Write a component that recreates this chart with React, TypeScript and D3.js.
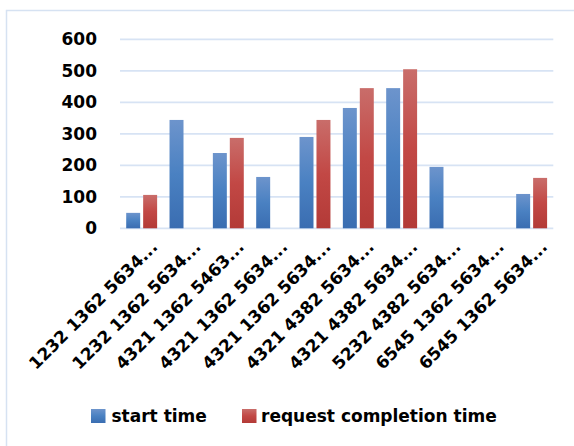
import React from 'react';
import * as d3 from 'd3';

const categories = [
  '1232 1362 5634...',
  '1232 1362 5634...',
  '4321 1362 5463...',
  '4321 1362 5634...',
  '4321 1362 5634...',
  '4321 4382 5634...',
  '4321 4382 5634...',
  '5232 4382 5634...',
  '6545 1362 5634...',
  '6545 1362 5634...',
];
const startTime = [49, 344, 239, 163, 290, 382, 445, 195, null, 109];
const completionTime = [106, null, 287, null, 344, 445, 505, null, null, 160];
const seriesNames = ['start time', 'request completion time'];
const yTicks = [0, 100, 200, 300, 400, 500, 600];

const W = 574;
const H = 446;
const font = '"DejaVu Sans", sans-serif';

const App = () => {
  const x = d3
    .scaleBand()
    .domain(categories.map((_, i) => String(i)))
    .range([120, 553.3])
    .paddingInner(0)
    .paddingOuter(0);

  const inner = d3
    .scaleBand()
    .domain(['0', '1'])
    .range([6.2, x.bandwidth() - 6.2])
    .paddingInner(0.176)
    .paddingOuter(0);

  const y = d3.scaleLinear().domain([0, 600]).range([228.3, 39.3]);

  const series = [startTime, completionTime];
  const fills = ['url(#gBlue)', 'url(#gRed)'];

  return (
    <svg
      width={W}
      height={H}
      style={{ position: 'absolute', left: 0, top: 0, background: '#fff' }}
    >
      <defs>
        <linearGradient id="gBlue" x1="0" y1="0" x2="0" y2="1">
          <stop offset="0" stopColor="#6d94cc" />
          <stop offset="0.5" stopColor="#4a81c2" />
          <stop offset="1" stopColor="#3a6db1" />
        </linearGradient>
        <linearGradient id="gRed" x1="0" y1="0" x2="0" y2="1">
          <stop offset="0" stopColor="#c96d6a" />
          <stop offset="0.5" stopColor="#c24845" />
          <stop offset="1" stopColor="#b33a37" />
        </linearGradient>
      </defs>

      {/* chart frame */}
      <rect x={6.5} y={10.5} width={620} height={500} fill="#fff" stroke="#d6e2f2" strokeWidth={1.5} />

      {/* gridlines */}
      {yTicks.map((t) => (
        <line
          key={t}
          x1={120}
          x2={553.3}
          y1={y(t)}
          y2={y(t)}
          stroke="#d7e3f4"
          strokeWidth={1.8}
        />
      ))}

      {/* y labels */}
      {yTicks.map((t) => (
        <text
          key={'l' + t}
          x={97}
          y={y(t)}
          dy="0.36em"
          textAnchor="end"
          fontFamily={font}
          fontWeight="bold"
          fontSize={17}
          fill="#000"
        >
          {t}
        </text>
      ))}

      {/* bars */}
      {series.map((vals, s) =>
        vals.map((v, i) =>
          v == null ? null : (
            <rect
              key={s + '-' + i}
              x={x(String(i))! + inner(String(s))!}
              y={y(v)}
              width={inner.bandwidth()}
              height={y(0) - y(v)}
              fill={fills[s]}
            />
          )
        )
      )}

      {/* category labels */}
      {categories.map((c, i) => {
        const cx = x(String(i))! + x.bandwidth() / 2;
        return (
          <text
            key={'c' + i}
            transform={`translate(${cx + 16.8}, 248) rotate(-45)`}
            textAnchor="end"
            fontFamily={font}
            fontWeight="bold"
            fontSize={17}
            fill="#000"
          >
            {c}
          </text>
        );
      })}

      {/* legend */}
      <rect x={91} y={409} width={14.5} height={14} fill="url(#gBlue)" />
      <text x={111.5} y={421.7} fontFamily={font} fontWeight="bold" fontSize={17} fill="#000">
        {seriesNames[0]}
      </text>
      <rect x={242} y={409} width={14.5} height={14} fill="url(#gRed)" />
      <text x={261} y={421.7} fontFamily={font} fontWeight="bold" fontSize={17} fill="#000">
        {seriesNames[1]}
      </text>
    </svg>
  );
};

export default App;
